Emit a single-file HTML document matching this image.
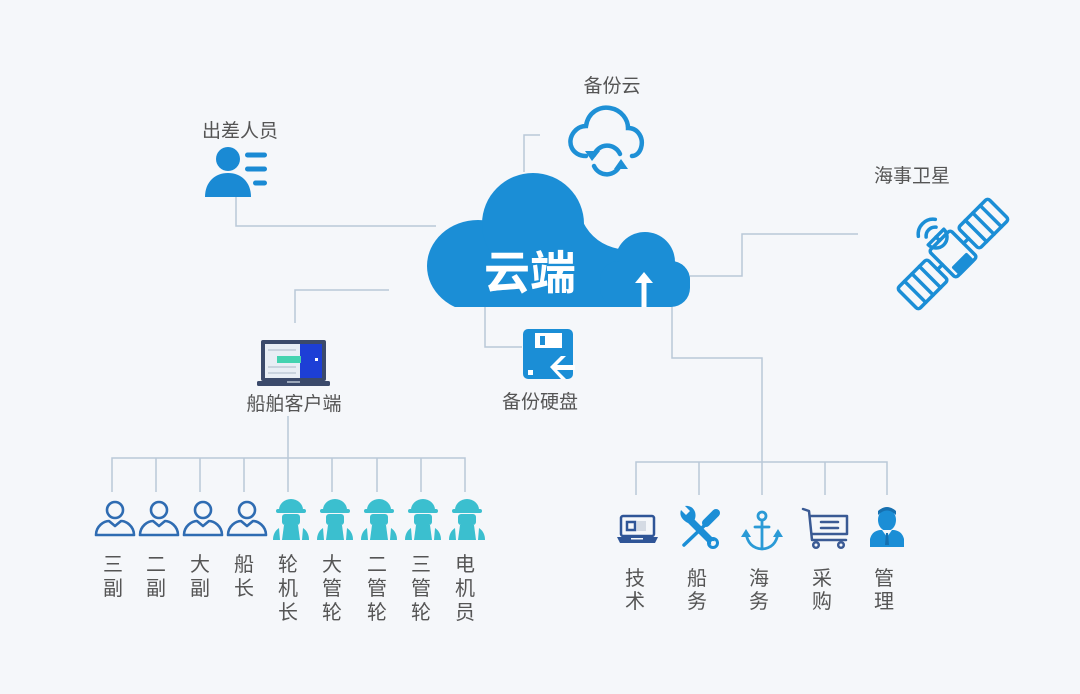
<!DOCTYPE html>
<html><head><meta charset="utf-8">
<style>
html,body{margin:0;padding:0;background:#f5f7fa;}
svg{display:block;}
text{font-family:"Liberation Sans","Noto Sans CJK SC",sans-serif;fill:#555;}
</style></head>
<body>
<svg width="1080" height="694" viewBox="0 0 1080 694" xmlns="http://www.w3.org/2000/svg">
<rect width="1080" height="694" fill="#f5f7fa"/>
<defs>
<clipPath id="cc"><rect x="400" y="150" width="320" height="157"/></clipPath>
</defs>

<!-- connectors -->
<g stroke="#b9c8d8" stroke-width="1.5" fill="none">
<path d="M236 197 V226 H436"/>
<path d="M295 323 V290 H389"/>
<path d="M524 172 V135 H540"/>
<path d="M485 306 V347 H522"/>
<path d="M690 276 H742 V234 H858"/>
<path d="M672 297 V358 H762 V495"/>
<path d="M636 495 V462 H887 V495"/>
<path d="M699 462 V495"/><path d="M825 462 V495"/>
<path d="M288 416 V492"/>
<path d="M112 492 V458 H465 V492"/>
<path d="M156 458 V492"/><path d="M200 458 V492"/><path d="M244 458 V492"/>
<path d="M332 458 V492"/><path d="M377 458 V492"/><path d="M421 458 V492"/>
</g>

<!-- main cloud -->
<g fill="#1b8ed6" clip-path="url(#cc)">
<ellipse cx="478" cy="266" rx="51" ry="46"/>
<circle cx="533" cy="224" r="51"/>
<path d="M560 270 L583 222 Q594 244 619 249 L619 270 Z"/>
<circle cx="645" cy="262" r="30"/>
<circle cx="671" cy="280" r="19"/>
<rect x="470" y="250" width="200" height="60"/>
<rect x="600" y="261" width="90" height="46" rx="19"/>
</g>
<text x="530" y="289" text-anchor="middle" style="font-size:46px;font-weight:bold;fill:#fff;font-family:'Noto Sans CJK SC',sans-serif;">云端</text>
<g fill="#fff">
<path d="M644 272 L653 283 L635 283 Z"/>
<rect x="641.5" y="282" width="5" height="25"/>
</g>

<!-- backup cloud icon -->
<text x="612" y="92" text-anchor="middle" style="font-size:19px;">备份云</text>
<g stroke="#1e90d6" stroke-width="4.5" fill="none" stroke-linecap="round">
<path d="M586 156 C572 156 566 142 574 132 C578 127 583 126 586 126 C588 112 600 106 610 108 C622 110 628 120 628 128 C638 128 644 138 641 148 C639 154 635 156 632 156"/>
<path d="M620 154 A14 14 0 0 0 594 155"/>
<path d="M594 166 A14 14 0 0 0 620 165"/>
</g>
<g fill="#1e90d6">
<path d="M585 151 L600 151 L592 161 Z"/>
<path d="M614 169 L628 169 L621 159 Z"/>
</g>

<!-- backup disk -->
<g>
<rect x="523" y="329" width="50" height="50" rx="5" fill="#1b8ed6"/>
<rect x="535" y="333" width="27" height="15" fill="#fff"/>
<rect x="540" y="336" width="5" height="9" fill="#1b8ed6"/>
<rect x="528" y="370" width="5" height="5" fill="#fff"/>
<path d="M550 367 L561 356 L566 356 L557 365 L575 365 L575 370 L557 370 L566 379 L561 379 Z" fill="#fff"/>
</g>
<text x="540" y="408" text-anchor="middle" style="font-size:19px;">备份硬盘</text>

<!-- 出差人员 -->
<text x="240" y="137" text-anchor="middle" style="font-size:19px;">出差人员</text>
<g fill="#1a8ad4">
<circle cx="228" cy="159" r="12"/>
<path d="M205 197 C205 182 215 173 228 173 C241 173 251 182 251 197 Z"/>
<rect x="245" y="152.5" width="22" height="5" rx="2.5"/>
<rect x="245" y="166.5" width="22" height="5" rx="2.5"/>
<rect x="253" y="180.5" width="14" height="5" rx="2.5"/>
</g>

<!-- laptop ship client -->
<g>
<rect x="261" y="340" width="65" height="41" rx="2" fill="#3b4a6b"/>
<rect x="265" y="344" width="57" height="34" fill="#e8eef5"/>
<rect x="300" y="344" width="22" height="34" fill="#1d3fd6"/>
<rect x="268" y="349" width="28" height="2" fill="#c9d3de"/>
<rect x="268" y="366" width="28" height="2" fill="#c9d3de"/>
<rect x="268" y="372" width="28" height="2" fill="#c9d3de"/>
<rect x="277" y="356" width="24" height="7" fill="#44d3b0"/>
<rect x="315" y="358" width="3" height="3" fill="#fff"/>
<rect x="257" y="381" width="73" height="5" rx="1.5" fill="#3b4a6b"/>
<rect x="287" y="381" width="13" height="2" fill="#9aa6b8"/>
</g>
<text x="294" y="410" text-anchor="middle" style="font-size:19px;">船舶客户端</text>

<!-- satellite -->
<text x="912" y="182" text-anchor="middle" style="font-size:19px;">海事卫星</text>
<g transform="translate(953,254) rotate(-45)" stroke="#1b8ed6" stroke-width="3.5" fill="none" stroke-linejoin="round" stroke-linecap="round">
<rect x="22" y="-15" width="42" height="30" rx="3"/>
<line x1="32.5" y1="-15" x2="32.5" y2="15"/><line x1="43" y1="-15" x2="43" y2="15"/><line x1="53.5" y1="-15" x2="53.5" y2="15"/>
<rect x="-64" y="-15" width="42" height="30" rx="3"/>
<line x1="-32.5" y1="-15" x2="-32.5" y2="15"/><line x1="-43" y1="-15" x2="-43" y2="15"/><line x1="-53.5" y1="-15" x2="-53.5" y2="15"/>
<line x1="15" y1="0" x2="22" y2="0"/><line x1="-15" y1="0" x2="-22" y2="0"/>
<rect x="-15" y="-19" width="30" height="38" rx="3"/>
<rect x="-9" y="10" width="18" height="9" fill="#1b8ed6"/>
<path d="M-11 -24 A11 11 0 0 0 11 -24 Z"/>
<line x1="0" y1="-19" x2="0" y2="-24"/>
<path d="M-7 -31 A9 9 0 0 1 7 -31"/>
<path d="M-12 -37 A15 15 0 0 1 12 -37"/>
</g>

<!-- left crew icons: officers -->
<g stroke="#2f6cb2" stroke-width="2.6" fill="none" stroke-linejoin="round">
<g transform="translate(115,0)"><circle cx="0" cy="510" r="8"/><path d="M-19 535 C-19 526 -11 521 -6 521 L0 526 L6 521 C11 521 19 526 19 535 Z"/></g>
<g transform="translate(159,0)"><circle cx="0" cy="510" r="8"/><path d="M-19 535 C-19 526 -11 521 -6 521 L0 526 L6 521 C11 521 19 526 19 535 Z"/></g>
<g transform="translate(203,0)"><circle cx="0" cy="510" r="8"/><path d="M-19 535 C-19 526 -11 521 -6 521 L0 526 L6 521 C11 521 19 526 19 535 Z"/></g>
<g transform="translate(247,0)"><circle cx="0" cy="510" r="8"/><path d="M-19 535 C-19 526 -11 521 -6 521 L0 526 L6 521 C11 521 19 526 19 535 Z"/></g>
</g>

<!-- workers -->
<defs>
<g id="wk" fill="#3bbfcf">
<path d="M-12 510 A12 11 0 0 1 12 510 Z"/>
<rect x="-15" y="509" width="30" height="4" rx="2"/>
<rect x="-9" y="514" width="18" height="11" rx="3"/>
<path d="M-7 525 L7 525 L9 540 L-9 540 Z"/>
<path d="M-12 528 Q-18 532 -18 540 L-11 540 Z"/>
<path d="M12 528 Q18 532 18 540 L11 540 Z"/>
</g>
</defs>
<use href="#wk" x="291"/>
<use href="#wk" x="335"/>
<use href="#wk" x="379"/>
<use href="#wk" x="423"/>
<use href="#wk" x="467"/>

<!-- left labels -->
<g style="font-size:20px;" text-anchor="middle">
<text x="113" y="571">三</text><text x="113" y="595">副</text>
<text x="156" y="571">二</text><text x="156" y="595">副</text>
<text x="200" y="571">大</text><text x="200" y="595">副</text>
<text x="244" y="571">船</text><text x="244" y="595">长</text>
<text x="288" y="571">轮</text><text x="288" y="595">机</text><text x="288" y="619">长</text>
<text x="332" y="571">大</text><text x="332" y="595">管</text><text x="332" y="619">轮</text>
<text x="377" y="571">二</text><text x="377" y="595">管</text><text x="377" y="619">轮</text>
<text x="421" y="571">三</text><text x="421" y="595">管</text><text x="421" y="619">轮</text>
<text x="465" y="571">电</text><text x="465" y="595">机</text><text x="465" y="619">员</text>
</g>

<!-- right icons -->
<!-- tech laptop -->
<g stroke="#2f5597" stroke-width="2.5" fill="none">
<rect x="621" y="516" width="33" height="20" rx="2"/>
<rect x="627" y="522" width="8" height="8"/>
</g>
<rect x="637" y="521" width="9" height="10" fill="#d5dbe4"/>
<path d="M617 537 H658 L655 543 H620 Z" fill="#2f5597"/>
<rect x="631" y="538" width="12" height="1.5" fill="#f5f7fa"/>

<!-- wrench & screwdriver -->
<g stroke="#1b8ed6" stroke-linecap="round" fill="none">
<line x1="705" y1="525" x2="684" y2="545" stroke-width="3.5"/>
<line x1="716" y1="513" x2="706" y2="523" stroke-width="8"/>
<line x1="689" y1="519" x2="711" y2="541" stroke-width="7"/>
<circle cx="713" cy="543" r="4.5" stroke-width="3"/>
</g>
<g fill="#1b8ed6">
<path d="M681 510 L686 515 L690 511 L685 506 C694 505 698 514 694 521 L688 523 C682 520 679 515 681 510 Z"/>
</g>
<circle cx="713" cy="543" r="2" fill="#f5f7fa"/>

<!-- anchor -->
<g stroke="#2a9ad6" stroke-width="2.8" fill="none" stroke-linecap="round">
<circle cx="762" cy="516" r="4"/>
<line x1="762" y1="520" x2="762" y2="548"/>
<line x1="755" y1="527" x2="769" y2="527"/>
<path d="M746 533 Q748 548 762 549 Q776 548 778 533"/>
</g>
<g fill="#2a9ad6">
<path d="M741 537 L746 529 L751 537 Z"/>
<path d="M773 537 L778 529 L783 537 Z"/>
</g>

<!-- cart -->
<g stroke="#3a5a94" stroke-width="2.5" fill="none" stroke-linejoin="round" stroke-linecap="round">
<path d="M803 509 L809 511 L812 540 L846 540"/>
<path d="M810 516 H847 V534 H812"/>
<line x1="821" y1="522" x2="838" y2="522"/>
<line x1="821" y1="528" x2="838" y2="528"/>
<circle cx="816" cy="545" r="2.8"/>
<circle cx="841" cy="545" r="2.8"/>
</g>

<!-- manager -->
<g fill="#1b8ed6">
<ellipse cx="887" cy="520" rx="9" ry="11"/>
<path d="M870 547 L870 539 Q872 531 880 530 L894 530 Q902 531 904 539 L904 547 Z"/>
</g>
<path d="M878 515 Q887 506 896 515 L896 511 Q887 503 878 511 Z" fill="#1670b0"/>
<path d="M882 530 L887 537 L892 530 Z" fill="#f5f7fa"/>
<path d="M886 533 L888 533 L889 545 L885 545 Z" fill="#1670b0"/>

<!-- right labels -->
<g style="font-size:20px;" text-anchor="middle">
<text x="635" y="585">技</text><text x="635" y="608">术</text>
<text x="697" y="585">船</text><text x="697" y="608">务</text>
<text x="759" y="585">海</text><text x="759" y="608">务</text>
<text x="822" y="585">采</text><text x="822" y="608">购</text>
<text x="884" y="585">管</text><text x="884" y="608">理</text>
</g>
</svg>
</body></html>
